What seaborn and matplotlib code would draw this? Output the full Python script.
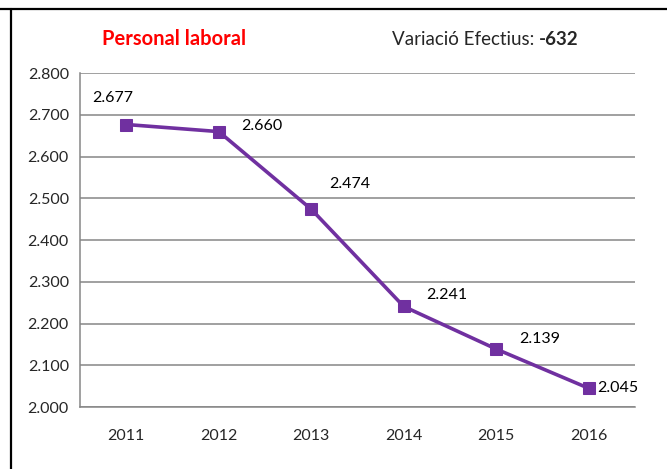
import numpy as np
import pandas as pd
import matplotlib
matplotlib.use("Agg")
import matplotlib.pyplot as plt
import seaborn as sns
from matplotlib.lines import Line2D
from matplotlib.ticker import FixedLocator, FuncFormatter

# Dades
anys = ['2011', '2012', '2013', '2014', '2015', '2016']
efectius = [2677, 2660, 2474, 2241, 2139, 2045]
etiquetes = ['2.677', '2.660', '2.474', '2.241', '2.139', '2.045']
variacio = efectius[-1] - efectius[0]

sns.set_style("white")
plt.rcParams['font.family'] = ['Lato', 'DejaVu Sans']

gris = '#868686'
lila = '#7030A0'

fig = plt.figure(figsize=(6.67, 4.69), dpi=100)
ax = fig.add_axes([0.12, 0.132, 0.832, 0.712])

df = pd.DataFrame({'any': anys, 'efectius': efectius})
sns.lineplot(data=df, x='any', y='efectius', ax=ax, color=lila, lw=2.6,
             marker='s', markersize=9, markeredgecolor=lila, sort=False)

ax.set_xlim(-0.5, len(anys) - 0.5)
ax.set_ylim(2000, 2800)
ax.set_yticks(np.arange(2000, 2801, 100))
ax.yaxis.set_major_formatter(FuncFormatter(lambda v, p: f'{v/1000:.3f}'))
ax.xaxis.set_minor_locator(FixedLocator(np.arange(-0.5, len(anys), 1.0)))
ax.tick_params(axis='x', which='major', length=0, pad=16, labelsize=11.5)
ax.tick_params(axis='x', which='minor', length=5, width=1.1, color=gris, direction='out')
ax.tick_params(axis='y', length=5, width=1.1, color=gris, direction='out', labelsize=11.5, pad=3)
ax.grid(axis='y', color=gris, lw=1.1)
ax.set_axisbelow(True)
for s in ['top', 'right']:
    ax.spines[s].set_visible(False)
for s in ['left', 'bottom']:
    ax.spines[s].set_color(gris)
    ax.spines[s].set_linewidth(1.1)
ax.set_xlabel('')
ax.set_ylabel('')

# Etiquetes de dades
offsets = [(-14, 27, 'center'), (43, 6, 'center'), (38, 25, 'center'),
           (43, 11, 'center'), (43, 10, 'center'), (8, 0, 'left')]
for i, (txt, (dx, dy, ha)) in enumerate(zip(etiquetes, offsets)):
    ax.annotate(txt, (i, efectius[i]), xytext=(dx, dy), textcoords='offset pixels',
                ha=ha, va='center', fontsize=11.5, color='black')

# Títols
fig.text(0.261, 0.903, 'Personal laboral', color='#FF0000', fontsize=14.5,
         fontweight='bold', ha='center', va='baseline')
t1 = fig.text(0.588, 0.903, 'Variació Efectius: ', fontsize=13.5, ha='left', va='baseline')
ax.annotate(f'{variacio}', xy=(1, 0), xycoords=t1, fontsize=13.5, fontweight='bold',
            ha='left', va='bottom', annotation_clip=False)

# Vores
fig.add_artist(Line2D([0, 1], [0.980, 0.980], color='black', lw=1.6, transform=fig.transFigure))
fig.add_artist(Line2D([0.0165, 0.0165], [0, 0.980], color='black', lw=1.6, transform=fig.transFigure))

fig.savefig('out.png', dpi=100)
